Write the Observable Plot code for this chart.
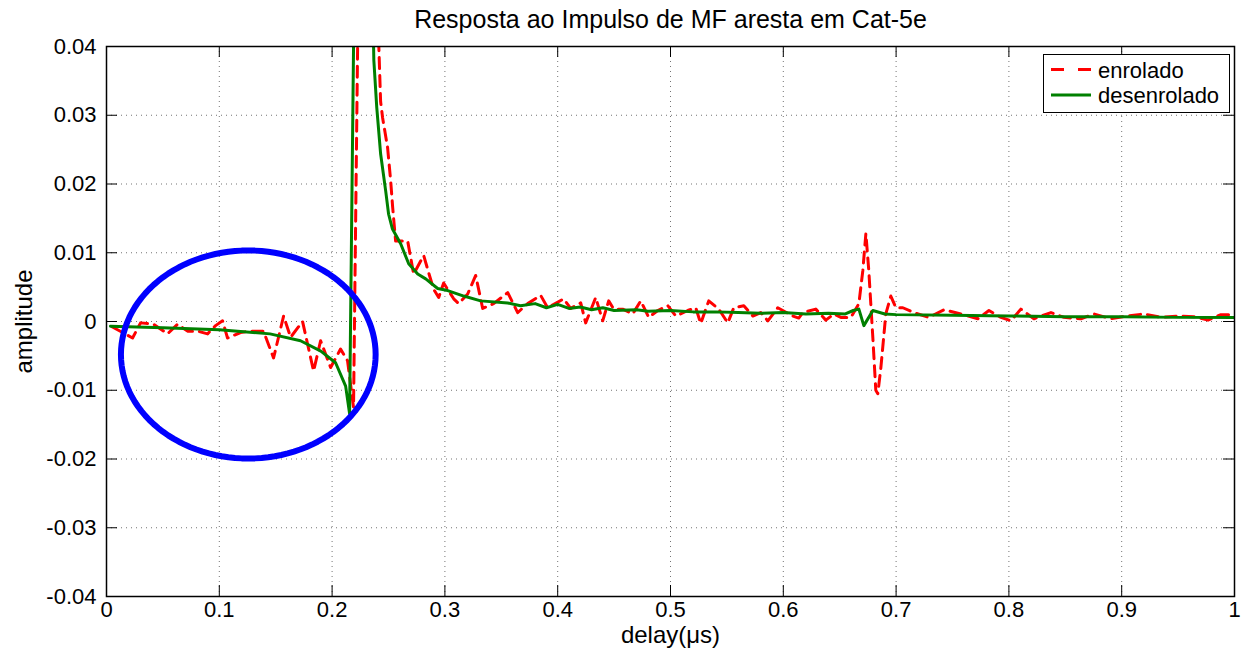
<!DOCTYPE html>
<html>
<head>
<meta charset="utf-8">
<script src="https://cdn.jsdelivr.net/npm/d3@7"></script>
<script src="https://cdn.jsdelivr.net/npm/@observablehq/plot@0.6"></script>
<style>
  html, body { margin: 0; padding: 0; background: #fff; }
  #wrap { position: relative; width: 1242px; height: 651px; font-family: "Liberation Sans", Arial, sans-serif; }
  #legend { position: absolute; left: 1043px; top: 54px; width: 187px; height: 59px; border: 1px solid #000; background: #fff; box-sizing: border-box; }
</style>
</head>
<body>
<div id="wrap"></div>
<script>
// ---- data ----
const titleText = "Resposta ao Impulso de MF aresta em Cat-5e";
const xLabel = "delay(\u03bcs)";
const yLabel = "amplitude";
const seriesNames = ["enrolado", "desenrolado"];

const xTicks = [0, 0.1, 0.2, 0.3, 0.4, 0.5, 0.6, 0.7, 0.8, 0.9, 1];
const xTickLabels = ["0", "0.1", "0.2", "0.3", "0.4", "0.5", "0.6", "0.7", "0.8", "0.9", "1"];
const yTicks = [-0.04, -0.03, -0.02, -0.01, 0, 0.01, 0.02, 0.03, 0.04];
const yTickLabels = ["-0.04", "-0.03", "-0.02", "-0.01", "0", "0.01", "0.02", "0.03", "0.04"];

const enroladoX = [0.0053,0.0231,0.0302,0.0417,0.0541,0.0630,0.0718,0.0807,0.0896,0.0967,0.1029,0.1073,0.1188,0.1277,0.1392,0.1481,0.1570,0.1632,0.1738,0.1836,0.1898,0.1987,0.2075,0.2137,0.2190,
  0.2240,0.2300,0.2375,0.2430,0.2448,0.2492,0.2519,0.2537,0.2563,0.2670,0.2723,0.2812,0.2856,0.2900,0.2945,0.2989,0.3078,0.3122,0.3202,0.3273,0.3335,0.3432,0.3557,0.3645,0.3734,0.3849,0.3911,
  0.4053,0.4115,0.4204,0.4248,0.4337,0.4399,0.4452,0.4497,0.4576,0.4665,0.4736,0.4807,0.4887,0.4976,0.5047,0.5153,0.5224,0.5268,0.5339,0.5428,0.5508,0.5561,0.5650,0.5730,0.5800,0.5863,0.5951,
  0.6084,0.6137,0.6173,0.6288,0.6377,0.6448,0.6510,0.6599,0.6670,0.6705,0.6732,0.6758,0.6794,0.6820,0.6838,0.6865,0.6909,0.6953,0.6998,0.7060,0.7157,0.7290,0.7424,0.7574,0.7725,0.7823,0.7929,
  0.8018,0.8106,0.8222,0.8373,0.8488,0.8639,0.8754,0.8905,0.9055,0.9197,0.9348,0.9499,0.9641,0.9765,0.9880,1.0000];
const enroladoY = [-0.0008,-0.0024,-0.0002,-0.0004,-0.0018,-0.0004,-0.0014,-0.0014,-0.0018,-0.0006,0.0001,-0.0024,-0.0016,-0.0014,-0.0014,-0.0053,0.0008,-0.0023,0.0000,-0.0072,-0.0028,-0.0067,-0.0040,-0.0057,-0.0125,
  0.0600,0.1600,0.0600,0.0320,0.0296,0.0253,0.0205,0.0166,0.0117,0.0117,0.0069,0.0096,0.0071,0.0047,0.0035,0.0056,0.0033,0.0026,0.0040,0.0067,0.0019,0.0026,0.0042,0.0013,0.0026,0.0038,0.0020,
  0.0033,0.0019,0.0027,-0.0002,0.0035,0.0001,0.0030,0.0018,0.0018,0.0011,0.0030,0.0006,0.0016,0.0023,0.0008,0.0016,0.0020,-0.0003,0.0030,0.0018,-0.0002,0.0020,0.0023,0.0008,0.0013,0.0001,0.0020,
  0.0008,0.0005,0.0013,0.0018,0.0002,0.0011,0.0006,0.0006,0.0026,0.0074,0.0128,0.0074,-0.0024,-0.0100,-0.0105,-0.0067,0.0011,0.0037,0.0020,0.0020,0.0013,0.0006,0.0017,0.0011,0.0004,0.0016,0.0006,
  0.0001,0.0018,0.0004,0.0013,0.0006,0.0004,0.0011,0.0004,0.0008,0.0011,0.0006,0.0008,0.0007,0.0002,0.0010,0.0010];

const desenroladoX = [0.0035,0.0500,0.1000,0.1450,0.1720,0.1900,0.2031,0.2120,0.2155,0.2200,0.2280,0.2345,0.2370,0.2396,0.2430,0.2475,0.2501,0.2534,0.2608,0.2679,0.2759,0.2830,0.2936,0.3025,0.3167,0.3317,0.3557,0.3670,
  0.3800,0.3900,0.4000,0.4100,0.4200,0.4300,0.4400,0.4500,0.4700,0.4800,0.5000,0.5200,0.5400,0.5600,0.5800,0.6000,0.6200,0.6400,0.6550,0.6620,0.6670,0.6714,0.6794,0.6900,0.7000,0.7500,0.8000,0.8500,0.9000,0.9500,1.0000];
const desenroladoY = [-0.0007,-0.0009,-0.0012,-0.0018,-0.0028,-0.0043,-0.0060,-0.0094,-0.0134,0.0550,0.1500,0.0600,0.0380,0.0311,0.0244,0.0190,0.0156,0.0135,0.0113,0.0084,0.0069,0.0062,0.0048,0.0045,0.0037,0.0030,0.0027,0.0023,
  0.0026,0.0020,0.0025,0.0019,0.0021,0.0017,0.0020,0.0016,0.0017,0.0015,0.0016,0.0014,0.0014,0.0013,0.0012,0.0013,0.0011,0.0012,0.0011,0.0016,0.0018,-0.0006,0.0016,0.0011,0.0010,0.0009,0.0008,0.0007,0.0007,0.0006,0.0006];

// annotation ellipse (data units)
const ellipseCenter = [0.1257, -0.0048];
const ellipseRadii = [0.1129, 0.01513];

// ---- build ----
const enrolado = enroladoX.map((x, i) => ({x, y: enroladoY[i]}));
const desenrolado = desenroladoX.map((x, i) => ({x, y: desenroladoY[i]}));
const ellipse = d3.range(0, 120).map(k => {
  const t = 2 * Math.PI * k / 120;
  return {x: ellipseCenter[0] + ellipseRadii[0] * Math.cos(t), y: ellipseCenter[1] + ellipseRadii[1] * Math.sin(t)};
});

const W = 1242, H = 651, mL = 106, mR = 8, mT = 46, mB = 55;
const fw = W - mL - mR, fh = H - mT - mB, tk = 11;
const font = "Liberation Sans, Arial, sans-serif";
const grid = {stroke: "#000", strokeOpacity: 0.55, strokeWidth: 1, strokeDasharray: "1,4"};

const chart = Plot.plot({
  width: W, height: H,
  marginLeft: mL, marginRight: mR, marginTop: mT, marginBottom: mB,
  style: {fontFamily: font, fontSize: "22px", background: "#fff", color: "#000", overflow: "visible"},
  x: {domain: [0, 1]},
  y: {domain: [-0.04, 0.04]},
  marks: [
    Plot.gridX(xTicks, grid),
    Plot.gridY(yTicks, grid),
    Plot.line(enrolado, {x: "x", y: "y", stroke: "#ff0000", strokeWidth: 3, strokeDasharray: "11,7", clip: true}),
    Plot.line(desenrolado, {x: "x", y: "y", stroke: "#008000", strokeWidth: 3, clip: true}),
    Plot.line(ellipse, {x: "x", y: "y", stroke: "#0000ff", strokeWidth: 6, curve: "linear-closed"}),
    Plot.tickX(xTicks, {x: d => d, stroke: "#000", insetTop: fh - tk}),
    Plot.tickX(xTicks, {x: d => d, stroke: "#000", insetBottom: fh - tk}),
    Plot.tickY(yTicks, {y: d => d, stroke: "#000", insetRight: fw - tk}),
    Plot.tickY(yTicks, {y: d => d, stroke: "#000", insetLeft: fw - tk}),
    Plot.frame({stroke: "#000", strokeWidth: 1.5}),
    Plot.axisX(xTicks, {tickSize: 0, tickPadding: 5, fontSize: 22, tickFormat: (d, i) => xTickLabels[i], label: null}),
    Plot.axisY(yTicks, {tickSize: 0, tickPadding: 10, fontSize: 22, tickFormat: (d, i) => yTickLabels[i], label: null}),
    Plot.text([titleText], {frameAnchor: "top", dy: -27, lineAnchor: "middle", textAnchor: "middle", fontSize: 25, text: d => d}),
    Plot.text([xLabel], {frameAnchor: "bottom", dy: 39, lineAnchor: "middle", textAnchor: "middle", fontSize: 24, text: d => d}),
    Plot.text([yLabel], {frameAnchor: "left", dx: -82, rotate: -90, lineAnchor: "middle", textAnchor: "middle", fontSize: 24, text: d => d})
  ]
});

const wrap = document.getElementById("wrap");
wrap.appendChild(chart);

const legend = document.createElement("div");
legend.id = "legend";
legend.innerHTML = `
<svg width="185" height="57" style="display:block">
  <line x1="7" y1="14.5" x2="47" y2="14.5" stroke="#ff0000" stroke-width="3" stroke-dasharray="13,14"/>
  <text x="54" y="23" font-family="${font}" font-size="22">${seriesNames[0]}</text>
  <line x1="7" y1="40" x2="47" y2="40" stroke="#008000" stroke-width="3"/>
  <text x="54" y="48" font-family="${font}" font-size="22">${seriesNames[1]}</text>
</svg>`;
wrap.appendChild(legend);
</script>
</body>
</html>
